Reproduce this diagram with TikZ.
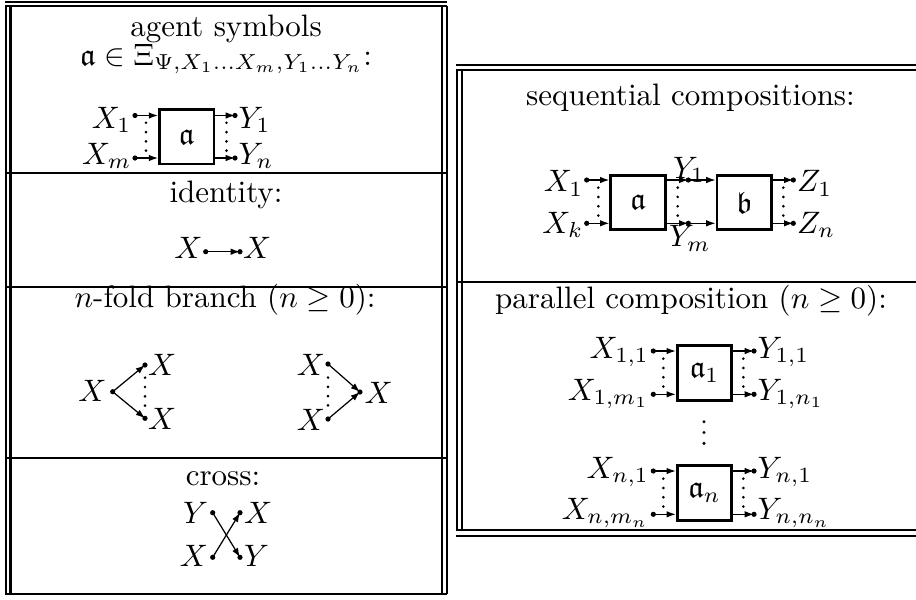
\documentclass[tikz,border=0pt]{standalone}
\usepackage{amssymb}
\usetikzlibrary{arrows.meta}
\newcommand\mkpt[3]{\coordinate (#1) at (#2,#3);}
\newcommand\mkdot[2]{\fill[black] (#1,#2) circle[radius=2.6];}
\begin{document}
\begin{tikzpicture}[x=0.32258pt,y=-0.32258pt,
  rule/.style={line width=0.65pt},
  arr/.style={line width=0.4pt,-{Latex[length=3pt,width=2.1pt]}},
  box/.style={draw,line width=0.9pt,minimum width=17.6pt,minimum height=17.6pt,inner sep=0pt},
  lbl/.style={inner sep=0pt},
  vdl/.style={line width=0.95pt,line cap=round,dash pattern=on 0pt off 3pt}
]
\useasboundingbox (0,0) rectangle (916,599);
% ---------- left table frame ----------
\draw[rule] (5,2) -- (447,2);
\draw[rule] (5,6) -- (447,6);
\foreach \xx in {6,10.5,442,446.5} \draw[rule] (\xx,6) -- (\xx,594);
\foreach \yy in {173,286.5,457.5,594} \draw[rule] (5,\yy) -- (447,\yy);
% ---------- right table frame ----------
\draw[rule] (456,65) -- (916,65);
\draw[rule] (456,70) -- (916,70);
\foreach \xx in {457,461.5} \draw[rule] (\xx,70) -- (\xx,529.5);
\draw[rule] (456,282) -- (916,282);
\draw[rule] (456,529.5) -- (916,529.5);
\draw[rule] (456,536) -- (916,536);
% ---------- titles ----------
\node[lbl,anchor=base] (t1) at (226,36) {agent symbols};
\node[lbl,anchor=base] (t2) at (226,65) {$\mathfrak{a}\in\Xi_{\Psi,X_1\ldots X_m,Y_1\ldots Y_n}$:};
\node[lbl,anchor=base] (t3) at (226,202) {identity:};
\node[lbl,anchor=base] (t4) at (225,307) {$n$-fold branch ($n\geq 0$):};
\node[lbl,anchor=base] (t5) at (223,485) {cross:};
\node[lbl,anchor=base] (t6) at (690.5,105) {sequential compositions:};
\node[lbl,anchor=base] (t7) at (691,308) {parallel composition ($n\geq 0$):};
% ---------- agent symbol ----------
\node[box] (abox) at (186.75,136.75) {$\mathfrak{a}$};
\mkpt{ax1}{135}{115.5}\mkpt{axm}{135}{158}
\mkpt{ay1}{235}{115.5}\mkpt{ayn}{235}{158}
\draw[arr] (ax1) -- (abox.west|-ax1);
\draw[arr] (axm) -- (abox.west|-axm);
\draw[arr] (abox.east|-ay1) -- (ay1);
\draw[arr] (abox.east|-ayn) -- (ayn);
\draw[vdl] (146,122.75) -- (146,150.75);
\draw[vdl] (226.5,122.75) -- (226.5,150.75);
\node[lbl,anchor=base east] (lax1) at (132,128) {$X_1$};
\node[lbl,anchor=base east] (laxm) at (132,164) {$X_m$};
\node[lbl,anchor=base west] (lay1) at (238,128) {$Y_1$};
\node[lbl,anchor=base west] (layn) at (238,164) {$Y_n$};
% ---------- identity ----------
\mkpt{ia}{205.7}{251.7}\mkpt{ib}{240}{251.7}
\draw[arr] (ia) -- (ib);
\node[lbl,anchor=base east] (lia) at (203,258) {$X$};
\node[lbl,anchor=base west] (lib) at (242.5,258) {$X$};
% ---------- branch ----------
\mkpt{bs}{112.7}{391.7}\mkpt{bt1}{145}{365}\mkpt{bt2}{145}{418.3}
\draw[arr] (bs) -- (bt1);
\draw[arr] (bs) -- (bt2);
\draw[vdl] (145,377.7) -- (145,405.7);
\node[lbl,anchor=base east] (lbs) at (107,401.7) {$X$};
\node[lbl,anchor=base west] (lbt1) at (147.5,375) {$X$};
\node[lbl,anchor=base west] (lbt2) at (147.5,429) {$X$};
\mkpt{bu1}{328}{364}\mkpt{bu2}{328}{419}\mkpt{bv}{360}{392}
\draw[arr] (bu1) -- (bv);
\draw[arr] (bu2) -- (bv);
\draw[vdl] (328,377.5) -- (328,405.5);
\node[lbl,anchor=base east] (lbu1) at (325.5,375) {$X$};
\node[lbl,anchor=base east] (lbu2) at (325.5,430) {$X$};
\node[lbl,anchor=base west] (lbv) at (364,403) {$X$};
% ---------- cross ----------
\mkpt{cul}{212.7}{512.7}\mkpt{cur}{240}{512.7}
\mkpt{cll}{212.7}{557.3}\mkpt{clr}{240}{557.3}
\draw[arr] (cul) -- (clr);
\draw[arr] (cll) -- (cur);
\node[lbl,anchor=base east] (lcul) at (208.5,523) {$Y$};
\node[lbl,anchor=base west] (lcur) at (243.5,523) {$X$};
\node[lbl,anchor=base east] (lcll) at (208.5,566) {$X$};
\node[lbl,anchor=base west] (lclr) at (243.5,566) {$Y$};
% ---------- sequential ----------
\node[box] (sa) at (638,202.5) {$\mathfrak{a}$};
\node[box] (sb) at (744.2,202.5) {$\mathfrak{b}$};
\mkpt{sx1}{586.7}{180}\mkpt{sxk}{586.7}{223.3}
\mkpt{sy1}{688.3}{180}\mkpt{sym}{688.3}{223.3}
\mkpt{sz1}{793.3}{180}\mkpt{szn}{793.3}{223.3}
\draw[arr] (sx1) -- (sa.west|-sx1);
\draw[arr] (sxk) -- (sa.west|-sxk);
\draw[arr] (sa.east|-sy1) -- (sy1);
\draw[arr] (sa.east|-sym) -- (sym);
\draw[arr] (sy1) -- (sb.west|-sy1);
\draw[arr] (sym) -- (sb.west|-sym);
\draw[arr] (sb.east|-sz1) -- (sz1);
\draw[arr] (sb.east|-szn) -- (szn);
\draw[vdl] (598.3,187.65) -- (598.3,215.65);
\draw[vdl] (677.7,187.65) -- (677.7,215.65);
\draw[vdl] (783.3,187.65) -- (783.3,215.65);
\node[lbl,anchor=base east] (lsx1) at (584,191.7) {$X_1$};
\node[lbl,anchor=base east] (lsxk) at (584,233.3) {$X_k$};
\node[lbl,anchor=base] (lsy1) at (689,178) {$Y_1$};
\node[lbl,anchor=base] (lsym) at (690,246.7) {$Y_m$};
\node[lbl,anchor=base west] (lsz1) at (796.5,191.7) {$Z_1$};
\node[lbl,anchor=base west] (lszn) at (796.5,233) {$Z_n$};
% ---------- parallel ----------
\node[box] (pa1) at (704.5,372.85) {$\mathfrak{a}_1$};
\node[box] (pan) at (704.5,492.85) {$\mathfrak{a}_n$};
\mkpt{px11}{653.3}{351}\mkpt{px1m}{653.3}{394.3}
\mkpt{py11}{754}{351}\mkpt{py1n}{754}{394.3}
\mkpt{pxn1}{653.3}{471}\mkpt{pxnm}{653.3}{514.3}
\mkpt{pyn1}{754}{471}\mkpt{pynn}{754}{514.3}
\draw[arr] (px11) -- (pa1.west|-px11);
\draw[arr] (px1m) -- (pa1.west|-px1m);
\draw[arr] (pa1.east|-py11) -- (py11);
\draw[arr] (pa1.east|-py1n) -- (py1n);
\draw[arr] (pxn1) -- (pan.west|-pxn1);
\draw[arr] (pxnm) -- (pan.west|-pxnm);
\draw[arr] (pan.east|-pyn1) -- (pyn1);
\draw[arr] (pan.east|-pynn) -- (pynn);
\draw[vdl] (663.3,358.65) -- (663.3,386.65);
\draw[vdl] (743.3,358.65) -- (743.3,386.65);
\draw[vdl] (663.3,478.65) -- (663.3,506.65);
\draw[vdl] (743.3,478.65) -- (743.3,506.65);
\foreach \yy in {421.7,432.5,443.3} \fill[black] (704,\yy) circle[radius=1.7];
\node[lbl,anchor=base east] (lpx11) at (649.5,358.3) {$X_{1,1}$};
\node[lbl,anchor=base east] (lpx1m) at (649.5,400) {$X_{1,m_1}$};
\node[lbl,anchor=base west] (lpy11) at (757,358.3) {$Y_{1,1}$};
\node[lbl,anchor=base west] (lpy1n) at (757,400) {$Y_{1,n_1}$};
\node[lbl,anchor=base east] (lpxn1) at (649.5,478.3) {$X_{n,1}$};
\node[lbl,anchor=base east] (lpxnm) at (649.5,519.3) {$X_{n,m_n}$};
\node[lbl,anchor=base west] (lpyn1) at (757,478.3) {$Y_{n,1}$};
\node[lbl,anchor=base west] (lpynn) at (757,519.3) {$Y_{n,n_n}$};
% ---------- terminal dots ----------
\mkdot{135}{115.5}\mkdot{135}{158}\mkdot{235}{115.5}\mkdot{235}{158}
\mkdot{205.7}{251.7}\mkdot{240}{251.7}
\mkdot{112.7}{391.7}\mkdot{145}{365}\mkdot{145}{418.3}
\mkdot{328}{364}\mkdot{328}{419}\mkdot{360}{392}
\mkdot{212.7}{512.7}\mkdot{240}{512.7}\mkdot{212.7}{557.3}\mkdot{240}{557.3}
\mkdot{586.7}{180}\mkdot{586.7}{223.3}\mkdot{688.3}{180}\mkdot{688.3}{223.3}
\mkdot{793.3}{180}\mkdot{793.3}{223.3}
\mkdot{653.3}{351}\mkdot{653.3}{394.3}\mkdot{754}{351}\mkdot{754}{394.3}
\mkdot{653.3}{471}\mkdot{653.3}{514.3}\mkdot{754}{471}\mkdot{754}{514.3}
\end{tikzpicture}
\end{document}
